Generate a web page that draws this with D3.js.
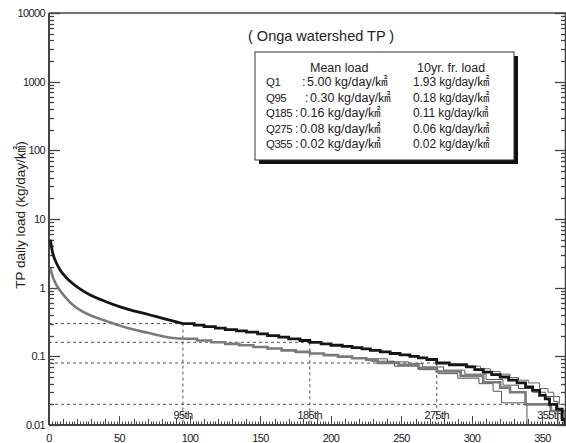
<!DOCTYPE html>
<html>
<head>
<meta charset="utf-8">
<script src="https://cdn.jsdelivr.net/npm/d3@7"></script>
<style>
  html, body { margin: 0; padding: 0; background: #fff; }
  svg { display: block; }
  text { font-family: "Liberation Sans", Arial, "Noto Sans CJK KR", sans-serif; fill: #222; }
</style>
</head>
<body>
<svg id="chart" width="566" height="443"></svg>
<script>
// TP load duration curves, Onga watershed (day of year rank vs. daily load)
const meanHead = [[1,5.00],[2,3.7],[3,3.0],[5,2.35],[8,1.8],[12,1.42],[17,1.14],[23,0.93],[30,0.77],[40,0.63],[50,0.53],[60,0.46],[70,0.41],[80,0.36],[95,0.30]];
const meanTail = [[95,0.30],[103,0.285],[110,0.27],[118,0.258],[125,0.245],[133,0.235],[140,0.225],[148,0.212],[155,0.20],[163,0.19],[170,0.18],[178,0.17],[185,0.16],[193,0.152],[200,0.145],[208,0.14],[215,0.134],[222,0.128],[228,0.122],[235,0.116],[242,0.11],[249,0.105],[256,0.10],[262,0.095],[268,0.09],[275,0.08],[284,0.075],[296,0.07],[302,0.064],[308,0.059],[314,0.054],[320,0.05],[326,0.045],[332,0.041],[338,0.036],[343,0.032],[348,0.027],[352,0.024],[355,0.02],[360,0.017],[364,0.012],[366,0.0095]];

const tenHead = [[1,1.93],[2,1.6],[3,1.38],[5,1.12],[8,0.9],[12,0.71],[17,0.56],[23,0.46],[30,0.39],[40,0.33],[50,0.28],[60,0.245],[70,0.22],[84,0.19],[95,0.18]];
const tenTail = [[95,0.18],[105,0.17],[115,0.16],[125,0.152],[135,0.145],[145,0.137],[155,0.13],[165,0.122],[175,0.116],[185,0.11],[195,0.104],[205,0.099],[215,0.094],[225,0.089],[233,0.08],[248,0.075],[262,0.068],[275,0.06],[292,0.052],[308,0.042],[320,0.035],[327,0.03],[338,0.02],[356,0.016],[366,0.0095]];

// thin individual curves around the tail
const thinUpper = [[285,0.078],[297,0.072],[306,0.066],[313,0.06],[320,0.055],[327,0.049],[333,0.045],[340,0.041],[348,0.034],[354,0.03],[358,0.026],[362,0.02],[366,0.02]];
const thinLow1 = [[225,0.092],[240,0.083],[255,0.078],[265,0.07],[280,0.063],[295,0.055],[310,0.046],[322,0.038],[333,0.034],[343,0.03],[352,0.026],[358,0.022],[361,0.0095]];
const thinLow2 = [[228,0.085],[245,0.072],[262,0.064],[276,0.056],[290,0.048],[305,0.04],[315,0.031],[321,0.021],[339,0.0095]];

// reference flow percentiles and their mean loads
const refDays = [95, 185, 275, 355];
const refLoads = [0.30, 0.16, 0.08, 0.02];
const refLabels = ["95th", "185th", "275th", "355th"];

// summary table
const tableRows = ["Q1", "Q95", "Q185", "Q275", "Q355"];
const meanLoads = ["5.00", "0.30", "0.16", "0.08", "0.02"];
const freqLoads = ["1.93", "0.18", "0.11", "0.06", "0.02"];
const unit = " kg/day/㎢";

const xTickLabels = [0, 50, 100, 150, 200, 250, 300, 350];
const yTickLabels = [0.01, 0.1, 1, 10, 100, 1000, 10000];

const svg = d3.select("#chart");
const pl = 49, pr = 565, pt = 13, pb = 425;

const x = d3.scaleLinear().domain([0, 366]).range([pl, pr]);
const y = d3.scaleLog().domain([0.01, 10000]).range([pb, pt]);

svg.append("clipPath").attr("id", "plot")
  .append("rect").attr("x", pl).attr("y", pt).attr("width", pr - pl).attr("height", pb - pt);

const axisColor = "#444";

// frame: left axis, bottom axis, top and right borders
svg.append("line").attr("x1", pl).attr("x2", pl).attr("y1", pt).attr("y2", pb)
  .attr("stroke", axisColor).attr("stroke-width", 2);
svg.append("line").attr("x1", pl).attr("x2", 566).attr("y1", pb).attr("y2", pb)
  .attr("stroke", axisColor).attr("stroke-width", 2);
svg.append("line").attr("x1", pl).attr("x2", 566).attr("y1", pt).attr("y2", pt)
  .attr("stroke", axisColor).attr("stroke-width", 1.5);
svg.append("line").attr("x1", 565.5).attr("x2", 565.5).attr("y1", pt).attr("y2", pb)
  .attr("stroke", axisColor).attr("stroke-width", 1.5);

// y ticks (log decades with minor ticks), inward on both sides
const yTicks = [];
for (let e = -2; e < 4; e++) {
  for (let k = 1; k <= 9; k++) yTicks.push({ v: k * Math.pow(10, e), major: k === 1 });
}
yTicks.push({ v: 10000, major: true });
const gy = svg.append("g");
yTicks.forEach(t => {
  const yy = Math.round(y(t.v)) + 0.5;
  const len = t.major ? 11 : 5;
  gy.append("line").attr("x1", pl).attr("x2", pl + len).attr("y1", yy).attr("y2", yy)
    .attr("stroke", axisColor).attr("stroke-width", 1.3);
  gy.append("line").attr("x1", 566).attr("x2", 566 - len).attr("y1", yy).attr("y2", yy)
    .attr("stroke", axisColor).attr("stroke-width", 1.3);
});
yTickLabels.forEach(v => {
  gy.append("text").attr("x", 45).attr("y", y(v) + 4)
    .attr("text-anchor", "end").attr("font-size", 11).attr("letter-spacing", -0.6)
    .text(v >= 1 ? d3.format("d")(v) : String(v));
});

// x ticks every 2 days, longer each 10 and 50
const gx = svg.append("g");
d3.range(0, 366, 2).forEach(d => {
  const len = d % 50 === 0 ? 9 : (d % 10 === 0 ? 6 : 3.5);
  const xx = Math.round(x(d)) + 0.5;
  gx.append("line").attr("x1", xx).attr("x2", xx).attr("y1", pb).attr("y2", pb - len)
    .attr("stroke", axisColor).attr("stroke-width", 1);
});
xTickLabels.forEach(d => {
  gx.append("text").attr("x", x(d)).attr("y", 442)
    .attr("text-anchor", "middle").attr("font-size", 11).attr("letter-spacing", -0.6)
    .text(d);
});

// y axis title
svg.append("text")
  .attr("transform", "translate(25,215) rotate(-90)")
  .attr("text-anchor", "middle").attr("font-size", 13.5)
  .text("TP daily load (kg/day/㎢)");

// dashed reference lines
const gref = svg.append("g");
refDays.forEach((d, i) => {
  const xx = x(d), yy = y(refLoads[i]);
  gref.append("line").attr("x1", pl).attr("x2", xx).attr("y1", yy).attr("y2", yy)
    .attr("stroke", "#555").attr("stroke-width", 1).attr("stroke-dasharray", "3,3");
  gref.append("line").attr("x1", xx).attr("x2", xx).attr("y1", yy).attr("y2", pb)
    .attr("stroke", "#555").attr("stroke-width", 1).attr("stroke-dasharray", "3,3");
  gref.append("text").attr("x", xx).attr("y", 419)
    .attr("text-anchor", "middle").attr("font-size", 11).attr("letter-spacing", -0.6)
    .text(refLabels[i]);
});

// curves
const gc = svg.append("g").attr("clip-path", "url(#plot)");
const smooth = d3.line().x(d => x(d[0])).y(d => y(d[1])).curve(d3.curveMonotoneX);
const steps = d3.line().x(d => x(d[0])).y(d => y(d[1])).curve(d3.curveStepAfter);

function draw(data, gen, color, width) {
  gc.append("path").attr("d", gen(data)).attr("fill", "none")
    .attr("stroke", color).attr("stroke-width", width).attr("stroke-linejoin", "miter");
}
draw(thinLow1, steps, "#555", 1);
draw(thinLow2, steps, "#555", 1);
draw(tenHead, smooth, "#7a7a7a", 2.6);
draw(tenTail, steps, "#7a7a7a", 2.6);
draw(thinUpper, steps, "#666", 1);
draw(meanHead, smooth, "#151515", 2.8);
draw(meanTail, steps, "#151515", 2.8);

// title
svg.append("text").attr("x", 248).attr("y", 41).attr("font-size", 14.5)
  .text("( Onga watershed TP )");

// summary box with drop shadow
const bx = 255, by = 52, bw = 259, bh = 108;
svg.append("rect").attr("x", bx + 4).attr("y", by + 4).attr("width", bw).attr("height", bh).attr("fill", "#111");
svg.append("rect").attr("x", bx).attr("y", by).attr("width", bw).attr("height", bh)
  .attr("fill", "#fff").attr("stroke", "#333").attr("stroke-width", 1);

const fs = 12.5;
svg.append("text").attr("x", 310).attr("y", 72).attr("font-size", 12.5).text("Mean load");
svg.append("text").attr("x", 417).attr("y", 72).attr("font-size", 12.5).text("10yr. fr. load");
const colonX = [302, 305, 295, 295, 295];
tableRows.forEach((r, i) => {
  const yy = 86 + i * 15.5;
  svg.append("text").attr("x", 266).attr("y", yy).attr("font-size", 11.5)
    .attr("letter-spacing", -0.5).text(r);
  svg.append("text").attr("x", colonX[i]).attr("y", yy).attr("font-size", fs).text(":");
  svg.append("text").attr("x", colonX[i] + 5).attr("y", yy).attr("font-size", fs)
    .text(meanLoads[i] + unit);
  svg.append("text").attr("x", 413).attr("y", yy).attr("font-size", 12)
    .attr("letter-spacing", -0.1)
    .text(freqLoads[i] + unit);
});
</script>
</body>
</html>
